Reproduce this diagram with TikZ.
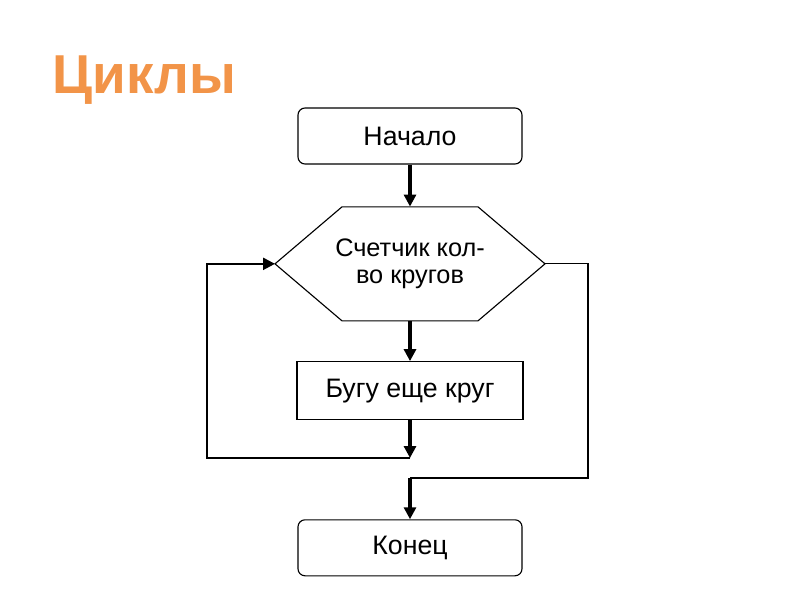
\documentclass[tikz,border=0pt]{standalone}
\usepackage{fontspec}
\setmainfont{Liberation Sans}
\usepackage{tikz}
\usetikzlibrary{arrows.meta, positioning}
\definecolor{titleorange}{RGB}{242,148,72}
\tikzstyle{term} = [rectangle, draw, line width=0.8pt, rounded corners=5pt, minimum width=5.6cm, minimum height=1.4cm, font=\fontsize{19}{22}\selectfont]
\tikzstyle{proc} = [rectangle, draw, line width=0.8pt, minimum width=5.65cm, minimum height=1.45cm, font=\fontsize{19}{22}\selectfont]
\tikzstyle{cond} = [rectangle, minimum height=2.85cm, inner sep=0pt, align=center, font=\fontsize{18}{19}\selectfont]
\tikzstyle{line} = [draw, -{Triangle[length=0.3cm, width=0.3cm]}, line width=2.8pt]
\tikzstyle{back} = [draw, line width=1.6pt]
\tikzstyle{thin} = [draw, line width=0.8pt]

\begin{document}
\begin{tikzpicture}[node distance=1.05cm]
  \useasboundingbox (0,0) rectangle (20,15);
  \node (title) [anchor=base west, text=titleorange, font=\bfseries\fontsize{39}{42}\selectfont] at (1.2,12.65) {Циклы};
  \node (start) [term] at (10.25,11.6) {Начало};
  \node (count) [cond, below=of start] {Счетчик кол-\\во кругов};
  % hexagon round the counter text
  \coordinate (countL) at ([xshift=-3.375cm]count.center);
  \coordinate (countR) at ([xshift=3.375cm]count.center);
  \draw [thin] ([shift={(-1.7,1.425)}]count.center) -- ([shift={(1.7,1.425)}]count.center) -- (countR)
    -- ([shift={(1.7,-1.425)}]count.center) -- ([shift={(-1.7,-1.425)}]count.center) -- (countL) -- cycle;
  \node (lap) [proc, below=1cm of count] {Бугу еще круг};
  \node (finish) [term, below=2.475cm of lap] {Конец};
  \coordinate (join) at (10.25,3.55);
  \coordinate (exit) at (10.25,3.05);
  \draw [line] (start) -- (count);
  \draw [line] (count) -- (lap);
  \draw [line] (lap) -- (join);
  \draw [back, -{Triangle[length=0.3cm, width=0.3cm]}] (join) -- ++(-5.075,0) |- (countL);
  \draw [thin] (countR) -- ++(1.075,0) |- (exit);
  \draw [line] (exit) -- (finish);
\end{tikzpicture}
\end{document}
